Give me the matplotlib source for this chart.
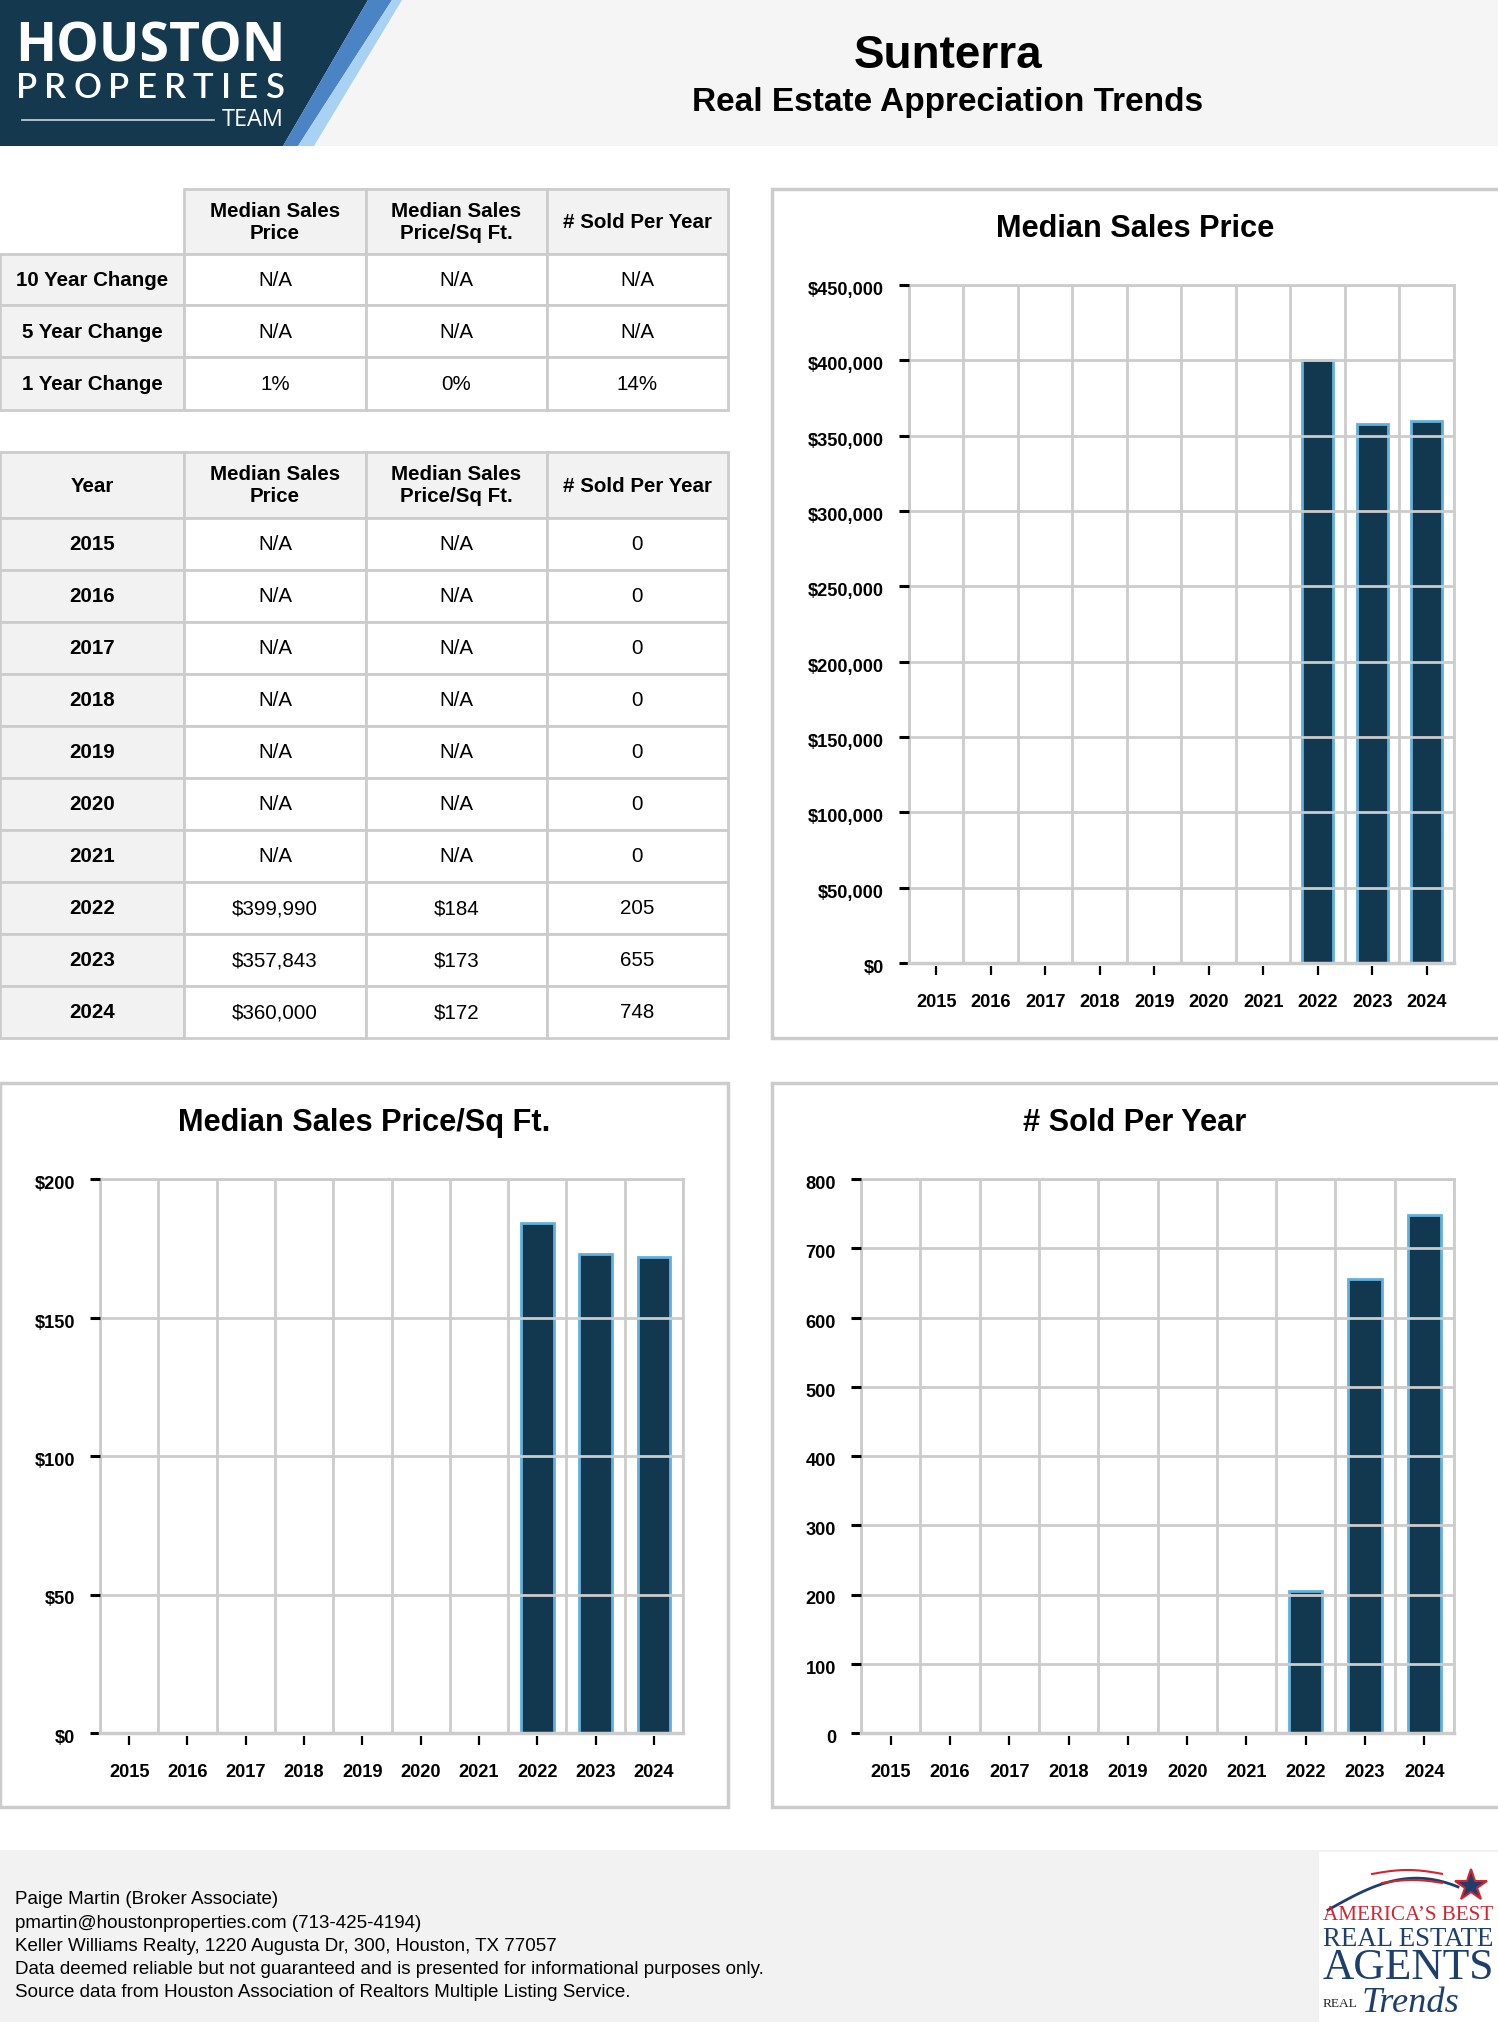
import matplotlib
matplotlib.use("Agg")
import matplotlib.pyplot as plt
import matplotlib.transforms as mtransforms
import numpy as np
from matplotlib import font_manager
from matplotlib.patches import Rectangle, Polygon

W, H = 1498, 2022

# ---- data ----
years = [2015, 2016, 2017, 2018, 2019, 2020, 2021, 2022, 2023, 2024]
median_price = [np.nan] * 7 + [399990, 357843, 360000]
price_sqft = [np.nan] * 7 + [184, 173, 172]
sold = [0, 0, 0, 0, 0, 0, 0, 205, 655, 748]

change_labels = ["10 Year Change", "5 Year Change", "1 Year Change"]
change_price = ["N/A", "N/A", "1%"]
change_sqft = ["N/A", "N/A", "0%"]
change_sold = ["N/A", "N/A", "14%"]
col_headers = ["Median Sales\nPrice", "Median Sales\nPrice/Sq Ft.", "# Sold Per Year"]

footer_lines = [
    "Paige Martin (Broker Associate)",
    "pmartin@houstonproperties.com (713-425-4194)",
    "Keller Williams Realty, 1220 Augusta Dr, 300, Houston, TX 77057",
    "Data deemed reliable but not guaranteed and is presented for informational purposes only.",
    "Source data from Houston Association of Realtors Multiple Listing Service.",
]

NAVY = "#12384f"
EDGE = "#62b1dc"
GRID = "#cccccc"
CELL = "#f2f2f2"

installed = {f.name for f in font_manager.fontManager.ttflist}
if "Liberation Sans Narrow" in installed:
    NARROW, NS = "Liberation Sans Narrow", 1.0
else:
    NARROW, NS = "Liberation Sans", 0.82
plt.rcParams["font.family"] = [NARROW, "DejaVu Sans"]

fig = plt.figure(figsize=(W / 100, H / 100), dpi=100)
bg = fig.add_axes([0, 0, 1, 1])
bg.set_xlim(0, W)
bg.set_ylim(H, 0)
bg.axis("off")
renderer = fig.canvas.get_renderer()


def px_axes(x0, y0, x1, y1):
    return fig.add_axes([x0 / W, 1 - y1 / H, (x1 - x0) / W, (y1 - y0) / H])


def fit_text(s, x0, x1, y, size, **kw):
    t = bg.text(x0, y, s, fontsize=size, ha="left", va="center", **kw)
    w = t.get_window_extent(renderer).width
    t.set_fontsize(size * (x1 - x0) / w)
    return t


def spaced_text(s, x0, x1, y, size, **kw):
    while True:
        widths = []
        for ch in s:
            t = bg.text(0, y, ch, fontsize=size, **kw)
            widths.append(t.get_window_extent(renderer).width)
            t.remove()
        gap = (x1 - x0 - sum(widths)) / (len(s) - 1)
        if gap >= 4:
            break
        size *= 0.96
    x = x0
    for ch, w in zip(s, widths):
        bg.text(x, y, ch, fontsize=size, ha="left", va="center", **kw)
        x += w + gap


# ---- header ----
bg.add_patch(Rectangle((0, 0), W, 146, facecolor="#f5f5f5", edgecolor="none"))
bg.add_patch(Polygon([(0, 0), (368, 0), (283, 146), (0, 146)], closed=True,
                     facecolor="#14394f", edgecolor="none"))
bg.add_patch(Polygon([(368, 0), (392, 0), (298, 146), (283, 146)], closed=True,
                     facecolor="#4a84c4", edgecolor="none"))
bg.add_patch(Polygon([(392, 0), (402, 0), (314, 146), (298, 146)], closed=True,
                     facecolor="#a9d2f2", edgecolor="none"))
fit_text("HOUSTON", 15, 285, 48, 40, color="white", fontweight="bold", family="Open Sans")
spaced_text("PROPERTIES", 16, 284, 88, 25, color="white", fontweight="semibold", family="Lato")
bg.plot([22, 214], [120, 120], color="white", lw=1.2, alpha=0.8)
fit_text("TEAM", 222, 284, 120, 16, color="white", family="Open Sans")

bg.text(948, 56, "Sunterra", ha="center", va="center", fontsize=33,
        fontweight="bold", family="Liberation Sans")
bg.text(948, 103, "Real Estate Appreciation Trends", ha="center", va="center",
        fontsize=24, fontweight="bold", family="Liberation Sans")


# ---- tables ----
def cell(x0, y0, x1, y1, text, fill="white", bold=False, border=True):
    bg.add_patch(Rectangle((x0, y0), x1 - x0, y1 - y0, facecolor=fill,
                           edgecolor=GRID if border else "none", lw=2))
    bg.text((x0 + x1) / 2, (y0 + y1) / 2 + 1, text, ha="center", va="center",
            fontsize=18 * NS, fontweight="bold" if bold else "normal",
            linespacing=1.2)


cols = [0, 184, 366, 547, 728]

rows1 = [189, 254, 305, 357, 410]
cell(cols[0], rows1[0], cols[1], rows1[1], "", border=False)
for j, h in enumerate(col_headers):
    cell(cols[j + 1], rows1[0], cols[j + 2], rows1[1], h, fill=CELL, bold=True)
for i, lab in enumerate(change_labels):
    y0, y1 = rows1[i + 1], rows1[i + 2]
    cell(cols[0], y0, cols[1], y1, lab, fill=CELL, bold=True)
    for j, v in enumerate([change_price[i], change_sqft[i], change_sold[i]]):
        cell(cols[j + 1], y0, cols[j + 2], y1, v)

rows2 = [452, 518, 570, 622, 674, 726, 778, 830, 882, 934, 986, 1038]
cell(cols[0], rows2[0], cols[1], rows2[1], "Year", fill=CELL, bold=True)
for j, h in enumerate(col_headers):
    cell(cols[j + 1], rows2[0], cols[j + 2], rows2[1], h, fill=CELL, bold=True)
for i, yr in enumerate(years):
    y0, y1 = rows2[i + 1], rows2[i + 2]
    p = "N/A" if np.isnan(median_price[i]) else f"${median_price[i]:,.0f}"
    q = "N/A" if np.isnan(price_sqft[i]) else f"${price_sqft[i]:.0f}"
    cell(cols[0], y0, cols[1], y1, str(yr), fill=CELL, bold=True)
    for j, v in enumerate([p, q, str(sold[i])]):
        cell(cols[j + 1], y0, cols[j + 2], y1, v)


# ---- charts ----
def bar_chart(box, area, title, values, ymax, step, fmt):
    x0, y0, x1, y1 = box
    bg.add_patch(Rectangle((x0, y0), x1 - x0, y1 - y0, facecolor="white",
                           edgecolor=GRID, lw=2.5))
    bg.text((x0 + min(x1, W)) / 2, y0 + 40, title, ha="center", va="center",
            fontsize=27 * NS, fontweight="bold")
    ax = px_axes(*area)
    # spine position first: set_position resets the ticks
    for s in ["left", "right", "top"]:
        ax.spines[s].set_color(GRID)
        ax.spines[s].set_linewidth(2)
    ax.spines["bottom"].set_position(("outward", 2))
    ax.spines["bottom"].set_visible(False)

    xs = np.arange(len(years))
    vals = np.array(values, dtype=float)
    keep = np.isfinite(vals) & (vals > 0)
    ax.bar(xs[keep], vals[keep], width=0.56, color=NAVY, edgecolor=EDGE,
           linewidth=2, zorder=2)
    ax.set_xlim(-0.5, len(years) - 0.5)
    ax.set_ylim(0, ymax)
    yt = np.arange(0, ymax + 1, step)
    ax.set_yticks(yt, labels=[fmt(v) for v in yt], fontweight="bold",
                  fontsize=16 * NS)
    ax.set_xticks(xs, labels=[str(y) for y in years], fontweight="bold",
                  fontsize=16 * NS)
    ax.set_xticks(np.arange(-0.5, len(years)), minor=True)
    ax.set_axisbelow(False)
    ax.grid(True, axis="y", which="major", color=GRID, lw=2, zorder=3)
    ax.grid(True, axis="x", which="minor", color=GRID, lw=2, zorder=1)
    ax.grid(False, axis="x", which="major")
    ax.tick_params(axis="x", which="minor", length=0)
    ax.tick_params(axis="x", which="major", length=6.5, width=1.6, color="black",
                   pad=14)
    ax.tick_params(axis="y", length=7, width=2.2, color="black", pad=11)
    down = mtransforms.ScaledTranslation(0, -0.035, fig.dpi_scale_trans)
    for lbl in ax.get_yticklabels():
        lbl.set_transform(lbl.get_transform() + down)
    ax.axhline(0, color=GRID, lw=2.5, clip_on=False, zorder=3)
    return ax


bar_chart((772, 189, W + 5, 1038), (909, 285, 1454, 963), "Median Sales Price",
          median_price, 450000, 50000, lambda v: f"${v:,.0f}")
bar_chart((0, 1083, 728, 1807), (100, 1179, 683, 1733), "Median Sales Price/Sq Ft.",
          price_sqft, 200, 50, lambda v: f"${v:.0f}")
bar_chart((772, 1083, W + 5, 1807), (861, 1179, 1454, 1733), "# Sold Per Year",
          sold, 800, 100, lambda v: f"{v:.0f}")

# ---- footer ----
bg.add_patch(Rectangle((0, 1850), W, H - 1850, facecolor="#f2f2f2", edgecolor="none"))
for k, line in enumerate(footer_lines):
    bg.text(15, 1900 + k * 23.2, line, ha="left", va="center", fontsize=16.5 * NS)

bg.add_patch(Rectangle((1319, 1852), W - 1319, H - 1852, facecolor="white", edgecolor="none"))
t = np.linspace(0, 1, 60)
bg.plot(1328 + 130 * t, 1910 - 36 * np.sin(t * 2.2) + 6 * t, color="#1d3f6e", lw=2)
bg.plot(1372 + 70 * t, 1874 - 4 * np.sin(t * 3.1), color="#d8232f", lw=1.5)
bg.plot(1382 + 60 * t, 1883 - 3 * np.sin(t * 3.1), color="#d8232f", lw=1.5)
bg.plot([1471], [1886], marker="*", markersize=24, color="#1d3f6e",
        markeredgecolor="#d8232f", markeredgewidth=1.5)
fit_text("AMERICA\u2019S BEST", 1323, 1495, 1916, 14, color="#d8232f", family="Liberation Serif")
fit_text("REAL ESTATE", 1323, 1495, 1939, 14, color="#1d3f6e", family="Liberation Serif")
fit_text("AGENTS", 1323, 1495, 1968, 24, color="#1d3f6e", family="Liberation Serif")
fit_text("REAL", 1323, 1358, 2004, 10, color="#222222", family="Liberation Serif")
fit_text("Trends", 1362, 1460, 2003, 14, color="#1d3f6e", family="Liberation Serif",
         fontstyle="italic")

fig.savefig("out.png", dpi=100)
